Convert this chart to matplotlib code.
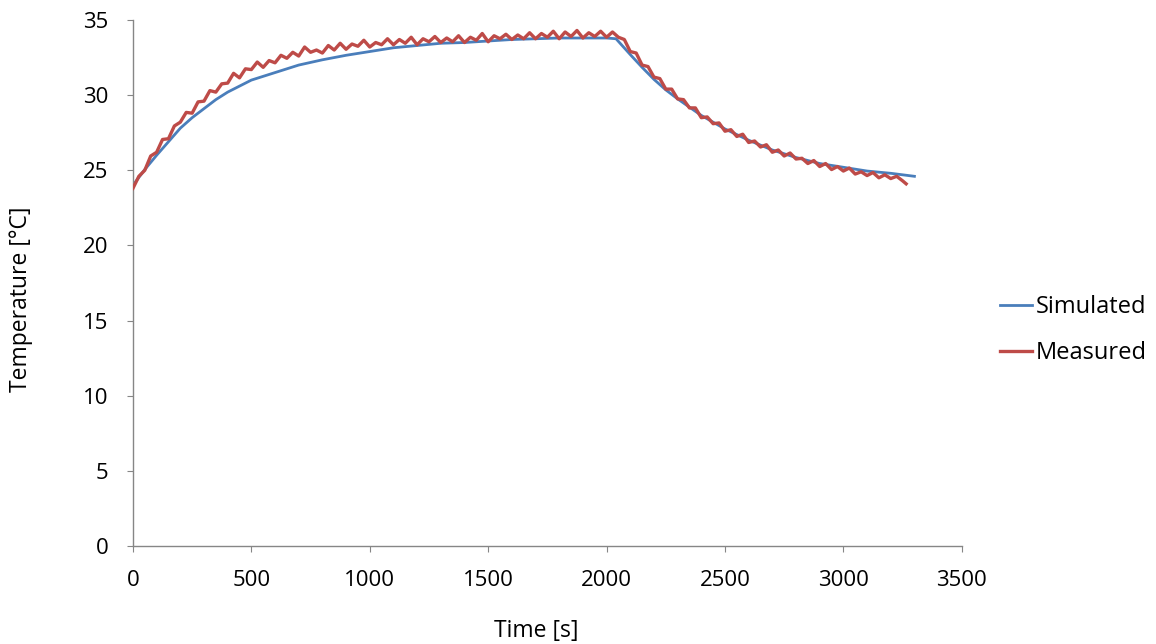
import matplotlib
matplotlib.use("Agg")
import matplotlib.pyplot as plt

# Simulated temperature (smooth curve)
sim_t = [0, 50, 100, 150, 200, 250, 300, 350, 400, 500, 600, 700, 800, 900,
         1000, 1100, 1200, 1300, 1400, 1500, 1600, 1700, 1800, 1900, 2000,
         2040, 2100, 2150, 2200, 2250, 2300, 2400, 2500, 2600, 2700, 2800,
         2900, 3000, 3100, 3200, 3300]
sim_T = [24.0, 25.05, 26.0, 26.9, 27.8, 28.5, 29.1, 29.7, 30.2, 31.0, 31.5,
         32.0, 32.35, 32.65, 32.9, 33.15, 33.3, 33.45, 33.5, 33.6, 33.7,
         33.75, 33.8, 33.8, 33.8, 33.75, 32.7, 31.85, 31.05, 30.35, 29.75,
         28.65, 27.75, 27.0, 26.35, 25.85, 25.45, 25.2, 24.95, 24.8, 24.6]

# Measured temperature (noisy), read every 25 s
meas_t = list(range(0, 3275, 25)) + [3265]
meas_T = [
    23.8, 24.6, 25.0, 25.95, 26.2, 27.05, 27.1, 27.95, 28.2, 28.85,
    28.8, 29.55, 29.6, 30.3, 30.2, 30.75, 30.8, 31.45, 31.15, 31.75,
    31.7, 32.2, 31.85, 32.3, 32.15, 32.65, 32.45, 32.85, 32.6, 33.2,
    32.85, 33.0, 32.8, 33.3, 33.0, 33.45, 33.05, 33.4, 33.25, 33.65,
    33.2, 33.5, 33.35, 33.75, 33.35, 33.7, 33.45, 33.85, 33.35, 33.75,
    33.55, 33.9, 33.5, 33.8, 33.55, 33.95, 33.5, 33.85, 33.65, 34.1,
    33.55, 33.95, 33.75, 34.05, 33.7, 34.0, 33.75, 34.15, 33.75, 34.1,
    33.85, 34.25, 33.75, 34.2, 33.9, 34.3, 33.8, 34.15, 33.9, 34.25,
    33.85, 34.2, 33.85, 33.7, 32.9, 32.8, 32.0, 31.9, 31.2, 31.1,
    30.4, 30.4, 29.75, 29.7, 29.15, 29.15, 28.5, 28.55, 28.1, 28.15,
    27.6, 27.7, 27.25, 27.4, 26.85, 26.95, 26.55, 26.7, 26.2, 26.35,
    25.95, 26.15, 25.75, 25.8, 25.45, 25.65, 25.25, 25.45, 25.05, 25.25,
    24.95, 25.15, 24.75, 24.9, 24.65, 24.85, 24.5, 24.7, 24.45, 24.6,
    24.3, 24.1,
]

x_ticks = [0, 500, 1000, 1500, 2000, 2500, 3000, 3500]
y_ticks = [0, 5, 10, 15, 20, 25, 30, 35]

plt.rcParams["font.family"] = ["Open Sans", "DejaVu Sans"]

fig = plt.figure(figsize=(11.56, 6.44), dpi=100)
ax = fig.add_axes([0.115, 0.152, 0.717, 0.817])

ax.plot(sim_t, sim_T, color="#4a7ebb", lw=2.0, label="Simulated", zorder=2)
ax.plot(meas_t, meas_T, color="#be4b48", lw=2.4, label="Measured", zorder=3)

ax.set_xlim(0, 3500)
ax.set_ylim(0, 35)
ax.set_xticks(x_ticks)
ax.set_yticks(y_ticks)

for side in ["top", "right"]:
    ax.spines[side].set_visible(False)
for side in ["left", "bottom"]:
    ax.spines[side].set_color("#868686")
    ax.spines[side].set_linewidth(1.0)

ax.tick_params(axis="both", colors="#868686", labelcolor="black",
               labelsize=16, length=4.5, direction="out")
ax.tick_params(axis="x", pad=13)
ax.tick_params(axis="y", pad=13)

ax.set_xlabel("Time [s]", fontsize=16.5)
ax.set_ylabel("Temperature [°C]", fontsize=16.5)
ax.xaxis.set_label_coords(0.487, -0.138)
ax.yaxis.set_label_coords(-0.121, 0.47)

fig.legend(loc="upper left", bbox_to_anchor=(0.865, 0.542), frameon=False,
           fontsize=17, handlelength=1.35, handletextpad=0.17,
           labelspacing=0.95, borderpad=0, borderaxespad=0)

fig.savefig("out.png", dpi=100)
